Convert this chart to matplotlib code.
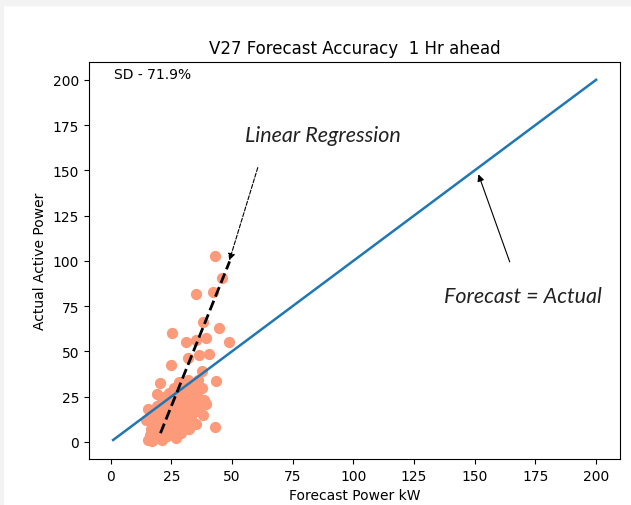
import matplotlib.pyplot as plt
import numpy as np
from matplotlib.patches import Rectangle

# forecast (kW) vs actual active power, 1 hr ahead
forecast = [42.8, 45.8, 35.3, 42.2, 38.1, 44.7, 25.4, 30.9, 35.1, 39.2, 48.9,
            31.7, 36.4, 40.6, 24.7, 43.2, 37.5, 20.2, 19.2, 42.8, 32.4,
            24.0, 28.2, 32.3, 35.7, 36.0, 37.7, 36.4, 38.5, 31.5, 39.2,
            15.5, 16.0, 17.0, 18.0, 19.0, 20.0, 21.0, 22.0, 23.0, 24.0,
            25.0, 26.0, 27.0, 28.0, 29.0, 30.0, 31.0, 32.0, 33.0, 34.0,
            35.0, 36.0, 30.0, 28.0, 26.0, 22.0, 18.0, 16.0, 15.5, 17.0,
            19.0, 21.0, 23.0, 24.0, 20.0, 18.0, 16.5, 25.0, 27.0, 22.0,
            30.0, 33.0, 34.0, 28.0, 30.0, 26.0, 32.0, 24.0, 21.0, 19.0,
            38.0, 35.0, 29.0, 27.0, 14.5, 17.5, 20.5]
actual = [102.9, 90.4, 81.7, 82.6, 66.3, 63.1, 60.0, 55.0, 56.3, 57.2, 55.0,
          46.5, 47.8, 48.5, 42.3, 33.7, 39.0, 32.4, 26.5, 8.3, 7.0,
          27.0, 28.0, 25.2, 26.1, 34.0, 30.0, 17.8, 23.0, 13.0, 21.0,
          18.0, 15.0, 12.0, 17.0, 14.0, 10.0, 19.0, 15.0, 21.0, 12.0,
          17.0, 22.0, 14.0, 19.0, 24.0, 16.0, 21.0, 18.0, 13.0, 22.0,
          17.0, 20.0, 11.0, 9.0, 8.0, 7.0, 6.0, 4.0, 1.0, 0.5,
          2.0, 1.0, 3.0, 5.0, 4.0, 3.0, 7.0, 26.0, 28.0, 25.0,
          27.0, 28.0, 30.0, 33.0, 30.0, 30.0, 34.0, 22.0, 23.0, 20.0,
          15.0, 10.0, 5.0, 2.0, 12.0, 9.0, 6.0]

# ideal line and fitted regression line
ideal = [1, 200]
reg_slope = 3.33
reg_intercept = -63.5
reg_x = np.array([20.5, 49.0])

sd_text = 'SD - 71.9%'

fig = plt.figure(figsize=(6.31, 5.06), dpi=100)
fig.patches.append(Rectangle((0, 0.988), 1, 0.012, transform=fig.transFigure,
                             color='#f3f3f3', zorder=0))
fig.patches.append(Rectangle((0, 0), 0.005, 1, transform=fig.transFigure,
                             color='#f3f3f3', zorder=0))
ax = fig.add_axes([0.141, 0.091, 0.842, 0.785])

ax.scatter(forecast, actual, c='#fc9a7a', s=50, zorder=2)
ax.plot(ideal, ideal, color='#1f77b4', lw=1.8, zorder=3)
ax.plot(reg_x, reg_slope * reg_x + reg_intercept, 'k--', lw=2, zorder=4)

ax.set_title('V27 Forecast Accuracy  1 Hr ahead', fontsize=12)
ax.set_xlabel('Forecast Power kW')
ax.set_ylabel('Actual Active Power')
ax.set_xticks(np.arange(0, 201, 25))
ax.set_yticks(np.arange(0, 201, 25))

ax.text(0.047, 0.97, sd_text, transform=ax.transAxes, fontsize=10,
        ha='left', va='center')

# callout labels
label_style = dict(fontsize=15.5, style='italic', family='Lato',
                   color='#222222', ha='left', va='center')
ax.text(55.5, 169.4, 'Linear Regression', **label_style)
ax.text(137.5, 80.6, 'Forecast = Actual', **label_style)

ax.annotate('', xy=(48.9, 100.2), xytext=(60.6, 151.5),
            arrowprops=dict(arrowstyle='-|>', linestyle='--', color='black',
                            lw=0.8, shrinkA=0, shrinkB=0))
ax.annotate('', xy=(151.5, 147.8), xytext=(164.4, 99.4),
            arrowprops=dict(arrowstyle='-|>', color='black',
                            lw=0.8, shrinkA=0, shrinkB=0))

fig.savefig('out.png', dpi=100)
